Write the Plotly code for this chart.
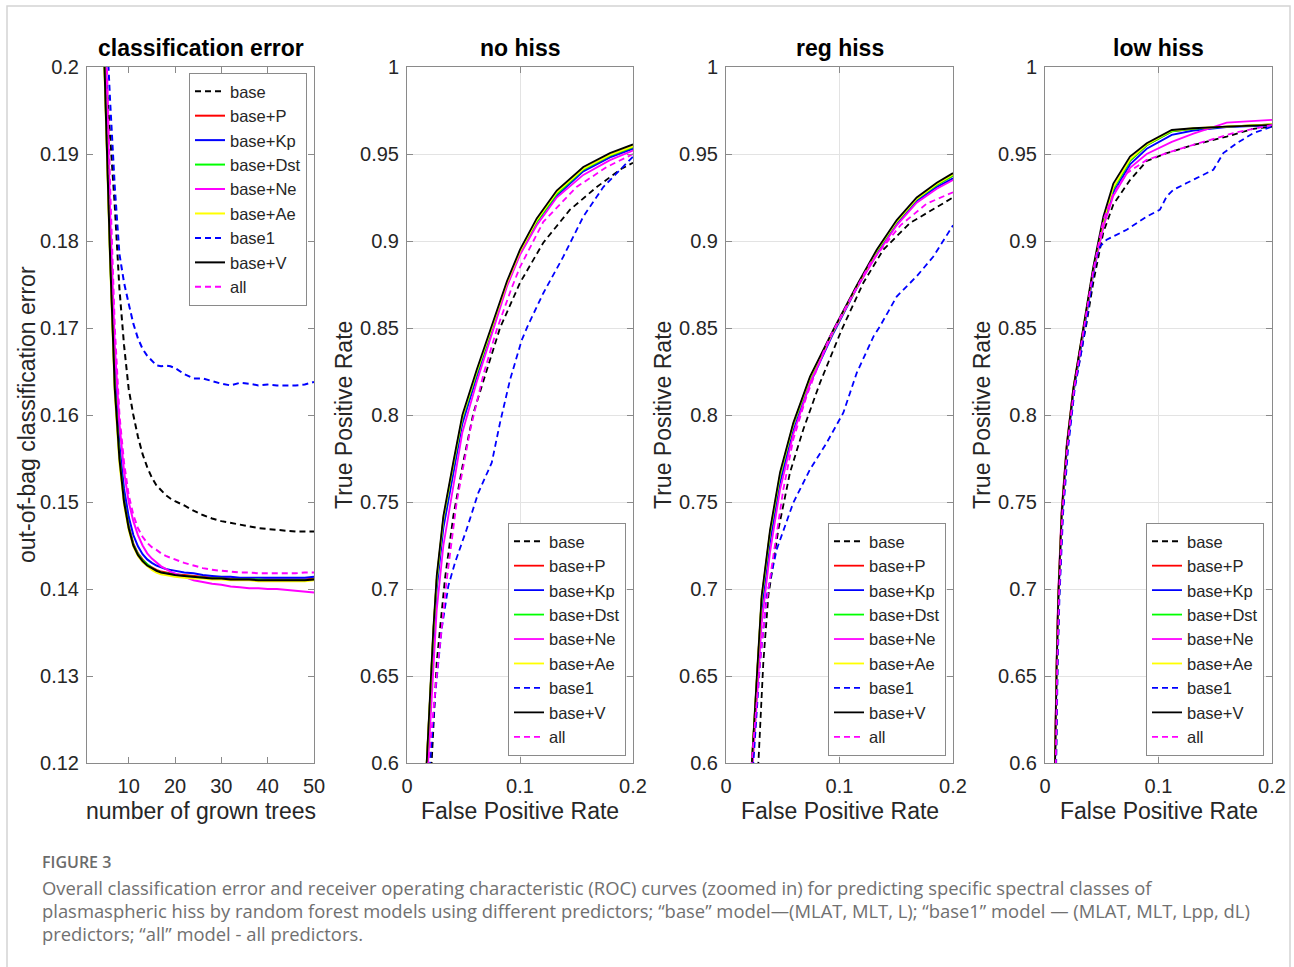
import plotly.graph_objects as go

W, H = 1294, 967

# ---------------- data: classification error ----------------
TREES = list(range(1, 21)) + list(range(22, 51, 2))

ERR_BASE = [0.36, 0.30, 0.255, 0.222, 0.200, 0.192, 0.184, 0.1745, 0.168, 0.1630, 0.1600, 0.1575, 0.1555,
            0.1540, 0.1528, 0.1519, 0.1513, 0.1508, 0.1504, 0.1501, 0.1496, 0.1490, 0.1485, 0.1481, 0.1478,
            0.1476, 0.1474, 0.1472, 0.1470, 0.1469, 0.1468, 0.1467, 0.1466, 0.1466, 0.1466]
ERR_P = [0.32, 0.28, 0.245, 0.215, 0.1965, 0.1785, 0.1635, 0.1555, 0.1503, 0.1473, 0.1452, 0.1441, 0.1434,
         0.1428, 0.1425, 0.1422, 0.1420, 0.1419, 0.1418, 0.1417, 0.1416, 0.1415, 0.1414, 0.1413, 0.1413,
         0.1412, 0.1412, 0.1412, 0.1411, 0.1411, 0.1411, 0.1411, 0.1411, 0.1411, 0.1412]
ERR_KP = [0.32, 0.28, 0.247, 0.217, 0.198, 0.180, 0.165, 0.1565, 0.1515, 0.1483, 0.1462, 0.1449, 0.1440,
          0.1434, 0.1430, 0.1427, 0.1425, 0.1423, 0.1422, 0.1421, 0.1419, 0.1418, 0.1416, 0.1415, 0.1414,
          0.1414, 0.1413, 0.1413, 0.1413, 0.1413, 0.1413, 0.1413, 0.1413, 0.1413, 0.1414]
ERR_DST = [0.32, 0.28, 0.245, 0.215, 0.1962, 0.1782, 0.1632, 0.1552, 0.1501, 0.1471, 0.1451, 0.1440, 0.1433,
           0.1428, 0.1424, 0.1421, 0.1419, 0.1418, 0.1417, 0.1416, 0.1415, 0.1414, 0.1413, 0.1412, 0.1412,
           0.1411, 0.1411, 0.1411, 0.1411, 0.1410, 0.1410, 0.1410, 0.1410, 0.1410, 0.1411]
ERR_NE = [0.33, 0.29, 0.255, 0.225, 0.203, 0.183, 0.168, 0.159, 0.1535, 0.1500, 0.1478, 0.1462, 0.1450,
          0.1441, 0.1435, 0.1430, 0.1426, 0.1423, 0.1420, 0.1418, 0.1414, 0.1410, 0.1408, 0.1406, 0.1405,
          0.1403, 0.1402, 0.1401, 0.1401, 0.1400, 0.1400, 0.1399, 0.1398, 0.1397, 0.1396]
ERR_AE = [0.32, 0.28, 0.244, 0.214, 0.1955, 0.1775, 0.1625, 0.1545, 0.1497, 0.1468, 0.1449, 0.1438, 0.1431,
          0.1426, 0.1422, 0.1419, 0.1417, 0.1416, 0.1415, 0.1414, 0.1413, 0.1412, 0.1412, 0.1411, 0.1411,
          0.1410, 0.1410, 0.1410, 0.1409, 0.1409, 0.1409, 0.1409, 0.1409, 0.1409, 0.1410]
ERR_BASE1 = [0.36, 0.30, 0.26, 0.23, 0.207, 0.196, 0.1862, 0.1785, 0.1752, 0.1728, 0.1705, 0.1688, 0.1676,
             0.1668, 0.1662, 0.1657, 0.1656, 0.1657, 0.1656, 0.1654, 0.1647, 0.1642, 0.1642, 0.1639, 0.1636,
             0.1634, 0.1637, 0.1636, 0.1634, 0.1635, 0.1634, 0.1634, 0.1634, 0.1635, 0.1638]
ERR_V = [0.32, 0.28, 0.245, 0.215, 0.196, 0.178, 0.163, 0.155, 0.1500, 0.1470, 0.1450, 0.1439, 0.1432,
         0.1427, 0.1424, 0.1421, 0.1419, 0.1418, 0.1417, 0.1416, 0.1415, 0.1414, 0.1413, 0.1412, 0.1412,
         0.1411, 0.1411, 0.1411, 0.1410, 0.1410, 0.1410, 0.1410, 0.1410, 0.1410, 0.1411]
ERR_ALL = [0.34, 0.295, 0.26, 0.228, 0.206, 0.186, 0.170, 0.160, 0.1545, 0.1508, 0.1485, 0.1470, 0.1460,
           0.1453, 0.1448, 0.1445, 0.1441, 0.1438, 0.1436, 0.1434, 0.1430, 0.1427, 0.1424, 0.1422, 0.1421,
           0.1420, 0.1419, 0.1419, 0.1418, 0.1418, 0.1418, 0.1418, 0.1418, 0.1419, 0.1419]

# ---------------- data: ROC, no hiss ----------------
NH_SOLID_FPR = [0.016, 0.0174, 0.0204, 0.0233, 0.0263, 0.0322, 0.041, 0.049, 0.0617, 0.0735, 0.0885, 0.100,
                0.1148, 0.1325, 0.156, 0.1796, 0.200]
NH_V = [0.57, 0.600, 0.639, 0.677, 0.7075, 0.742, 0.773, 0.800, 0.826, 0.849, 0.877, 0.895, 0.913, 0.929, 0.9425, 0.9505, 0.9555]
NH_AE = [0.57, 0.600, 0.638, 0.676, 0.706, 0.741, 0.772, 0.799, 0.825, 0.848, 0.876, 0.894, 0.912, 0.928, 0.9415, 0.9495, 0.9545]
NH_P = [0.57, 0.599, 0.637, 0.675, 0.705, 0.740, 0.771, 0.798, 0.824, 0.847, 0.875, 0.893, 0.911, 0.927, 0.9405, 0.9485, 0.9535]
NH_DST = [0.57, 0.599, 0.637, 0.675, 0.705, 0.740, 0.771, 0.798, 0.824, 0.847, 0.875, 0.893, 0.911, 0.927, 0.941, 0.949, 0.954]
NH_KP = [0.565, 0.595, 0.632, 0.669, 0.700, 0.735, 0.767, 0.795, 0.822, 0.846, 0.875, 0.893, 0.911, 0.926, 0.940, 0.948, 0.953]
NH_NE = [0.555, 0.585, 0.620, 0.655, 0.688, 0.725, 0.759, 0.790, 0.819, 0.843, 0.874, 0.892, 0.909, 0.925, 0.938, 0.9465, 0.952]
NH_BASE_FPR = [0.0205, 0.0218, 0.0263, 0.0336, 0.041, 0.0498, 0.0587, 0.0705, 0.0823, 0.100, 0.1206, 0.1442, 0.1679, 0.1885, 0.200]
NH_BASE = [0.58, 0.600, 0.658, 0.706, 0.742, 0.773, 0.801, 0.826, 0.850, 0.876, 0.899, 0.918, 0.931, 0.941, 0.945]
NH_ALL_FPR = [0.0175, 0.0189, 0.0263, 0.0322, 0.0351, 0.044, 0.0558, 0.0675, 0.0794, 0.0926, 0.100, 0.1206, 0.150, 0.1767, 0.200]
NH_ALL = [0.58, 0.600, 0.650, 0.688, 0.705, 0.750, 0.791, 0.823, 0.849, 0.873, 0.885, 0.911, 0.931, 0.9425, 0.950]
NH_BASE1_FPR = [0.019, 0.0204, 0.0248, 0.0307, 0.0366, 0.0425, 0.0528, 0.0631, 0.075, 0.0823, 0.0912, 0.1015,
                0.1074, 0.1206, 0.1383, 0.156, 0.1737, 0.1885, 0.200]
NH_BASE1 = [0.58, 0.600, 0.6386, 0.677, 0.7018, 0.7152, 0.7343, 0.7553, 0.7726, 0.7955, 0.8203, 0.843,
            0.852, 0.870, 0.891, 0.914, 0.931, 0.941, 0.9485]

# ---------------- data: ROC, reg hiss ----------------
RH_SOLID_FPR = [0.021, 0.0226, 0.027, 0.0314, 0.0388, 0.0476, 0.0593, 0.074, 0.0946, 0.1152, 0.1328, 0.1504, 0.168, 0.1857, 0.200]
RH_V = [0.58, 0.600, 0.648, 0.696, 0.734, 0.767, 0.7955, 0.822, 0.849, 0.8745, 0.895, 0.912, 0.925, 0.9335, 0.939]
RH_AE = [0.58, 0.600, 0.647, 0.695, 0.733, 0.766, 0.7950, 0.8215, 0.8485, 0.874, 0.8945, 0.9113, 0.9243, 0.9328, 0.9383]
RH_P = [0.58, 0.599, 0.646, 0.694, 0.732, 0.765, 0.7945, 0.821, 0.848, 0.8735, 0.894, 0.911, 0.924, 0.9322, 0.9375]
RH_DST = [0.58, 0.599, 0.646, 0.694, 0.732, 0.765, 0.7945, 0.821, 0.848, 0.8735, 0.894, 0.911, 0.924, 0.9322, 0.9375]
RH_KP = [0.575, 0.595, 0.641, 0.688, 0.727, 0.761, 0.791, 0.818, 0.847, 0.873, 0.893, 0.910, 0.923, 0.931, 0.936]
RH_NE = [0.57, 0.590, 0.634, 0.680, 0.721, 0.757, 0.789, 0.818, 0.848, 0.873, 0.892, 0.909, 0.922, 0.930, 0.935]
RH_BASE_FPR = [0.027, 0.0285, 0.0329, 0.0373, 0.0461, 0.0564, 0.0681, 0.0828, 0.1019, 0.121, 0.1386, 0.162, 0.1826, 0.200]
RH_BASE = [0.58, 0.600, 0.658, 0.696, 0.734, 0.767, 0.7917, 0.8185, 0.849, 0.876, 0.895, 0.9103, 0.918, 0.925]
RH_ALL_FPR = [0.021, 0.0226, 0.030, 0.0344, 0.0417, 0.0505, 0.0593, 0.0711, 0.0857, 0.0916, 0.1097, 0.1273, 0.1537, 0.1769, 0.200]
RH_ALL = [0.58, 0.600, 0.658, 0.6865, 0.719, 0.7572, 0.786, 0.811, 0.836, 0.845, 0.867, 0.8875, 0.909, 0.9215, 0.928]
RH_BASE1_FPR = [0.0225, 0.0241, 0.030, 0.0359, 0.0447, 0.0593, 0.074, 0.0887, 0.1034, 0.1152, 0.130, 0.1357,
                0.1504, 0.168, 0.1827, 0.200]
RH_BASE1 = [0.58, 0.600, 0.658, 0.696, 0.7228, 0.7496, 0.7687, 0.784, 0.8013, 0.8242, 0.8452, 0.851,
            0.8681, 0.8797, 0.8911, 0.909]

# ---------------- data: ROC, low hiss ----------------
LH_SOLID_FPR = [0.0085, 0.0088, 0.0103, 0.0117, 0.0147, 0.0191, 0.0249, 0.0337, 0.0425, 0.0514, 0.0602,
                0.0749, 0.0896, 0.1117, 0.1307, 0.1601, 0.200]
LH_V = [0.57, 0.600, 0.658, 0.696, 0.744, 0.782, 0.815, 0.851, 0.885, 0.914, 0.933, 0.9485, 0.9562, 0.9638, 0.9648, 0.9657, 0.9667]
LH_AE = [0.57, 0.600, 0.658, 0.696, 0.744, 0.782, 0.815, 0.850, 0.884, 0.912, 0.931, 0.947, 0.9555, 0.9635, 0.9648, 0.9657, 0.967]
LH_P = [0.57, 0.600, 0.657, 0.695, 0.743, 0.781, 0.814, 0.849, 0.883, 0.911, 0.930, 0.946, 0.955, 0.963, 0.9645, 0.9657, 0.967]
LH_DST = [0.57, 0.600, 0.657, 0.695, 0.743, 0.781, 0.814, 0.849, 0.883, 0.911, 0.930, 0.946, 0.955, 0.963, 0.9645, 0.9657, 0.967]
LH_KP = [0.565, 0.595, 0.653, 0.692, 0.740, 0.779, 0.812, 0.847, 0.881, 0.909, 0.928, 0.944, 0.953, 0.961, 0.9635, 0.9655, 0.9665]
LH_NE = [0.575, 0.605, 0.662, 0.699, 0.746, 0.783, 0.815, 0.848, 0.882, 0.908, 0.926, 0.942, 0.950, 0.957, 0.9617, 0.968, 0.9696]
LH_BASE_FPR = [0.009, 0.0095, 0.011, 0.0125, 0.0155, 0.0198, 0.0258, 0.0367, 0.0425, 0.0514, 0.0602, 0.0749,
               0.0896, 0.1072, 0.1307, 0.1601, 0.1836, 0.200]
LH_BASE = [0.57, 0.600, 0.658, 0.696, 0.744, 0.782, 0.815, 0.853, 0.876, 0.905, 0.921, 0.935, 0.946, 0.9505,
           0.9552, 0.960, 0.9645, 0.9657]
LH_ALL_FPR = [0.0088, 0.0093, 0.0108, 0.0123, 0.0153, 0.0196, 0.0256, 0.035, 0.0425, 0.0514, 0.0602, 0.072,
              0.0896, 0.1072, 0.1307, 0.1659, 0.200]
LH_ALL = [0.57, 0.600, 0.658, 0.696, 0.744, 0.782, 0.815, 0.853, 0.883, 0.912, 0.927, 0.939, 0.9466, 0.9505,
          0.9553, 0.962, 0.9667]
LH_BASE1_FPR = [0.0092, 0.0097, 0.0112, 0.0128, 0.016, 0.0205, 0.0262, 0.0325, 0.0379, 0.0441, 0.0485, 0.0543,
                0.072, 0.0896, 0.1013, 0.1072, 0.1131, 0.1248, 0.1366, 0.1483, 0.1571, 0.1689, 0.1836, 0.200]
LH_BASE1 = [0.57, 0.600, 0.658, 0.696, 0.744, 0.782, 0.815, 0.838, 0.860, 0.889, 0.8969, 0.9007, 0.9065, 0.914,
            0.918, 0.9256, 0.9294, 0.9333, 0.937, 0.9409, 0.9505, 0.9562, 0.962, 0.9657]

NAMES = ["base", "base+P", "base+Kp", "base+Dst", "base+Ne", "base+Ae", "base1", "base+V", "all"]
COLORS = ["#000000", "#ff0000", "#0000ff", "#00ff00", "#ff00ff", "#ffff00", "#0000ff", "#000000", "#ff00ff"]
DASHED = [True, False, False, False, False, False, True, False, True]

PANEL_TITLES = ["classification error", "no hiss", "reg hiss", "low hiss"]
ERR_TICKS = [0.12, 0.13, 0.14, 0.15, 0.16, 0.17, 0.18, 0.19, 0.2]
ERR_TICKTEXT = ["0.12", "0.13", "0.14", "0.15", "0.16", "0.17", "0.18", "0.19", "0.2"]
TREE_TICKS = [10, 20, 30, 40, 50]
ROC_YTICKS = [0.6, 0.65, 0.7, 0.75, 0.8, 0.85, 0.9, 0.95, 1.0]
ROC_YTEXT = ["0.6", "0.65", "0.7", "0.75", "0.8", "0.85", "0.9", "0.95", "1"]
ROC_XTICKS = [0, 0.1, 0.2]
ROC_XTEXT = ["0", "0.1", "0.2"]

CAPTION_HEAD = "FIGURE 3"
CAPTION_LINES = [
    "Overall classification error and receiver operating characteristic (ROC) curves (zoomed in) for predicting specific spectral classes of",
    "plasmaspheric hiss by random forest models using different predictors; \u201cbase\u201d model\u2014(MLAT, MLT, L); \u201cbase1\u201d model \u2014 (MLAT, MLT, Lpp, dL)",
    "predictors; \u201call\u201d model - all predictors.",
]

# ---------------- layout helpers (pixel positions) ----------------
def px(x):
    return x / W

def py(y):
    return 1 - y / H

AX_LEFT = [87, 407, 726, 1045]
AX_RIGHT = [314, 633, 953, 1272]
AX_TOP, AX_BOTTOM = 67, 763

FONT = "Liberation Sans, Arial, Helvetica, sans-serif"
TXT = "#262626"

fig = go.Figure()

err_series = [ERR_BASE, ERR_P, ERR_KP, ERR_DST, ERR_NE, ERR_AE, ERR_BASE1, ERR_V, ERR_ALL]
roc_panels = [
    [(NH_BASE_FPR, NH_BASE), (NH_SOLID_FPR, NH_P), (NH_SOLID_FPR, NH_KP), (NH_SOLID_FPR, NH_DST),
     (NH_SOLID_FPR, NH_NE), (NH_SOLID_FPR, NH_AE), (NH_BASE1_FPR, NH_BASE1), (NH_SOLID_FPR, NH_V),
     (NH_ALL_FPR, NH_ALL)],
    [(RH_BASE_FPR, RH_BASE), (RH_SOLID_FPR, RH_P), (RH_SOLID_FPR, RH_KP), (RH_SOLID_FPR, RH_DST),
     (RH_SOLID_FPR, RH_NE), (RH_SOLID_FPR, RH_AE), (RH_BASE1_FPR, RH_BASE1), (RH_SOLID_FPR, RH_V),
     (RH_ALL_FPR, RH_ALL)],
    [(LH_BASE_FPR, LH_BASE), (LH_SOLID_FPR, LH_P), (LH_SOLID_FPR, LH_KP), (LH_SOLID_FPR, LH_DST),
     (LH_SOLID_FPR, LH_NE), (LH_SOLID_FPR, LH_AE), (LH_BASE1_FPR, LH_BASE1), (LH_SOLID_FPR, LH_V),
     (LH_ALL_FPR, LH_ALL)],
]

legend_names = ["legend", "legend2", "legend3", "legend4"]

def line_style(i, w):
    d = dict(color=COLORS[i], width=w)
    if DASHED[i]:
        d["dash"] = "6px,4px"
    return d

for i, name in enumerate(NAMES):
    fig.add_trace(go.Scatter(x=TREES, y=err_series[i], mode="lines", name=name,
                             line=line_style(i, 2), xaxis="x", yaxis="y",
                             legend="legend", showlegend=True))

for p, panel in enumerate(roc_panels):
    ax = str(p + 2)
    for i, name in enumerate(NAMES):
        xs, ys = panel[i]
        fig.add_trace(go.Scatter(x=xs, y=ys, mode="lines", name=name,
                                 line=line_style(i, 1.8), xaxis="x" + ax, yaxis="y" + ax,
                                 legend=legend_names[p + 1], showlegend=True))

axis_common = dict(showline=True, linecolor="#8a8a8a", linewidth=1, mirror="ticks",
                   ticks="inside", ticklen=6, tickcolor="#8a8a8a", tickwidth=1,
                   zeroline=False, automargin=False,
                   tickfont=dict(family=FONT, size=20, color=TXT))

layout = dict(
    width=W, height=H, margin=dict(l=0, r=0, t=0, b=0),
    paper_bgcolor="white", plot_bgcolor="white", showlegend=True,
    font=dict(family=FONT, color=TXT),
)

# panel 1 axes
layout["xaxis"] = dict(domain=[px(AX_LEFT[0]), px(AX_RIGHT[0])], range=[1, 50], anchor="y",
                       tickvals=TREE_TICKS, showgrid=False, ticklabelstandoff=5, **axis_common)
layout["yaxis"] = dict(domain=[py(AX_BOTTOM), py(AX_TOP)], range=[0.12, 0.2], anchor="x",
                       tickvals=ERR_TICKS, ticktext=ERR_TICKTEXT, showgrid=False,
                       ticklabelstandoff=3, **axis_common)
for p in range(3):
    k = str(p + 2)
    layout["xaxis" + k] = dict(domain=[px(AX_LEFT[p + 1]), px(AX_RIGHT[p + 1])], range=[0, 0.2],
                               anchor="y" + k, tickvals=ROC_XTICKS, ticktext=ROC_XTEXT,
                               showgrid=True, gridcolor="#e3e3e3", gridwidth=1,
                               ticklabelstandoff=5, **axis_common)
    layout["yaxis" + k] = dict(domain=[py(AX_BOTTOM), py(AX_TOP)], range=[0.6, 1.0],
                               anchor="x" + k, tickvals=ROC_YTICKS, ticktext=ROC_YTEXT,
                               showgrid=True, gridcolor="#e3e3e3", gridwidth=1,
                               ticklabelstandoff=3, **axis_common)

leg_common = dict(bgcolor="white", bordercolor="#8a8a8a", borderwidth=1,
                  font=dict(family=FONT, size=16.5, color=TXT), tracegroupgap=0,
                  itemwidth=30, traceorder="normal", itemclick=False, itemdoubleclick=False)
layout["legend"] = dict(x=px(307), y=py(73), xanchor="right", yanchor="top", **leg_common)
leg_right = [626, 946, 1264]
for p in range(3):
    layout[legend_names[p + 1]] = dict(x=px(leg_right[p]), y=py(756), xanchor="right",
                                       yanchor="bottom", **leg_common)

ann = []
for p in range(4):
    cx = (AX_LEFT[p] + AX_RIGHT[p]) / 2
    ann.append(dict(text="<b>%s</b>" % PANEL_TITLES[p], x=px(cx), y=py(48), xref="paper", yref="paper",
                    showarrow=False, xanchor="center", yanchor="middle",
                    font=dict(family=FONT, size=23, color="#000000")))
    xt = "number of grown trees" if p == 0 else "False Positive Rate"
    ann.append(dict(text=xt, x=px(cx), y=py(811), xref="paper", yref="paper", showarrow=False,
                    xanchor="center", yanchor="middle", font=dict(family=FONT, size=23, color=TXT)))
ylab_x = [27, 344, 663, 982]
ylab = ["out-of-bag classification error", "True Positive Rate", "True Positive Rate", "True Positive Rate"]
for p in range(4):
    ann.append(dict(text=ylab[p], x=px(ylab_x[p]), y=py(415), xref="paper", yref="paper",
                    showarrow=False, textangle=-90, xanchor="center", yanchor="middle",
                    font=dict(family=FONT, size=23, color=TXT)))

CAP_FONT = "Open Sans, Lato, sans-serif"
ann.append(dict(text=CAPTION_HEAD, x=px(40), y=py(862), xref="paper", yref="paper", showarrow=False,
                xanchor="left", yanchor="middle",
                font=dict(family=CAP_FONT, size=16, color="#6b6b6b", weight=600)))
for j, line in enumerate(CAPTION_LINES):
    ann.append(dict(text=line, x=px(40), y=py(887 + 23 * j), xref="paper", yref="paper", showarrow=False,
                    xanchor="left", yanchor="middle",
                    font=dict(family=CAP_FONT, size=18.4, color="#707070")))
layout["annotations"] = ann

layout["shapes"] = [dict(type="rect", xref="paper", yref="paper", x0=px(7), x1=px(1290), y0=py(1000), y1=py(6),
                         line=dict(color="#d4d4d4", width=1.5), fillcolor="rgba(0,0,0,0)", layer="below")]

fig.update_layout(**layout)
fig.write_html("out.html")
